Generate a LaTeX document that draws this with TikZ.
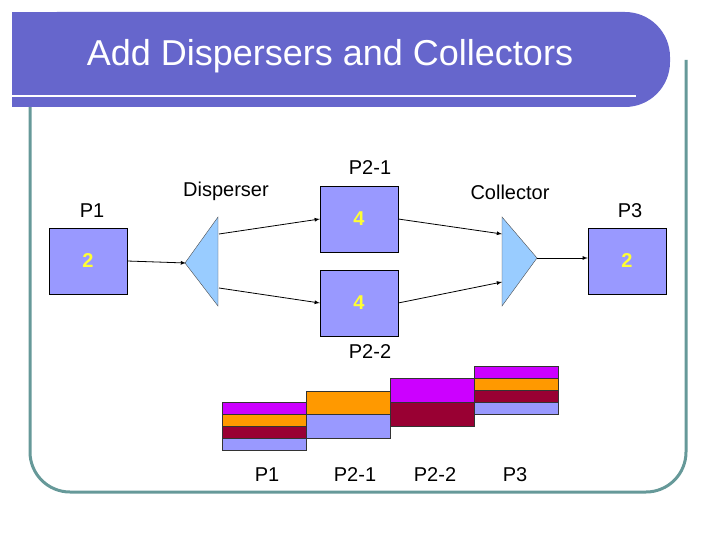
\documentclass[tikz,border=0pt]{standalone}
\usepackage{fontspec}
\setmainfont{Liberation Sans}
\begin{document}
\begin{tikzpicture}[x=1pt,y=-1pt,
  box/.style={draw=black,fill=boxc,minimum width=78pt,minimum height=66pt,inner sep=0pt,font=\fontsize{20}{22}\selectfont\color{numc}},
  lab/.style={font=\fontsize{20}{22}\selectfont,inner sep=0pt},
  tri/.style={draw=black!70,fill=tric},
  arr/.style={-latex,thick},
  bar/.style={draw=black!80,line width=0.6pt}]
\definecolor{boxc}{HTML}{9999FF}
\definecolor{tric}{HTML}{99CCFF}
\definecolor{numc}{HTML}{FFFF33}
\definecolor{titlec}{HTML}{6666CC}
\definecolor{framec}{HTML}{669999}
\definecolor{pu}{HTML}{CC00FF}
\definecolor{orc}{HTML}{FF9900}
\definecolor{rd}{HTML}{990033}
\useasboundingbox (0,0) rectangle (720,540);
\fill[white] (0,0) rectangle (720,540);
% frame
\draw[framec,line width=3pt,rounded corners=40pt] (30,80) -- (30,492) -- (686,492) -- (686,60);
% title bar
\fill[titlec,rounded corners=45pt] (12,12) -- (670,12) -- (670,107) -- (12,107) -- cycle;
\fill[titlec] (12,12) rectangle (100,107);
\draw[white,line width=2pt] (12,96) -- (636,96);
\node[text=white,font=\fontsize{36}{40}\selectfont] (title) at (330,56) {Add Dispersers and Collectors};
% boxes
\node[box] (p1) at (88,261) {\textbf{2}};
\node[box] (p21) at (359,219) {\textbf{4}};
\node[box] (p22) at (359,303) {\textbf{4}};
\node[box] (p3) at (627,261) {\textbf{2}};
\draw[tri] (218,217) -- (218,306) -- (185,263) -- cycle;
\draw[tri] (502,217) -- (502,306) -- (537,258) -- cycle;
\coordinate (dt) at (186,263);
\coordinate (du) at (219,234);
\coordinate (dl) at (219,288);
\coordinate (cu) at (502,234);
\coordinate (cl) at (502,282);
\coordinate (ct) at (537,258);
\draw[arr] (p1.east) -- (dt);
\draw[arr] (du) -- (p21.west);
\draw[arr] (dl) -- (p22.west);
\draw[arr] (p21.east) -- (cu);
\draw[arr] (p22.east) -- (cl);
\draw[arr] (ct) -- (p3.west |- ct);
% labels
\node[lab] (lp1) at (92,211) {P1};
\node[lab] (ld) at (226,191) {Disperser};
\node[lab] (lp21) at (370,168) {P2-1};
\node[lab] (lc) at (510,192) {Collector};
\node[lab] (lp3) at (630,211) {P3};
\node[lab] (lp22) at (370,352) {P2-2};
% bar chart
\draw[bar,fill=pu] (222,402) rectangle (306,414);
\draw[bar,fill=orc] (222,414) rectangle (306,426);
\draw[bar,fill=rd] (222,426) rectangle (306,438);
\draw[bar,fill=boxc] (222,438) rectangle (306,450);
\draw[bar,fill=orc] (306,391) rectangle (390,414);
\draw[bar,fill=boxc] (306,414) rectangle (390,438);
\draw[bar,fill=pu] (390,378) rectangle (474,402);
\draw[bar,fill=rd] (390,402) rectangle (474,426);
\draw[bar,fill=pu] (474,366) rectangle (558,378);
\draw[bar,fill=orc] (474,378) rectangle (558,390);
\draw[bar,fill=rd] (474,390) rectangle (558,402);
\draw[bar,fill=boxc] (474,402) rectangle (558,414);
\node[lab] (b1) at (267,475) {P1};
\node[lab] (b2) at (355,475) {P2-1};
\node[lab] (b3) at (435,475) {P2-2};
\node[lab] (b4) at (515,475) {P3};
\end{tikzpicture}
\end{document}
